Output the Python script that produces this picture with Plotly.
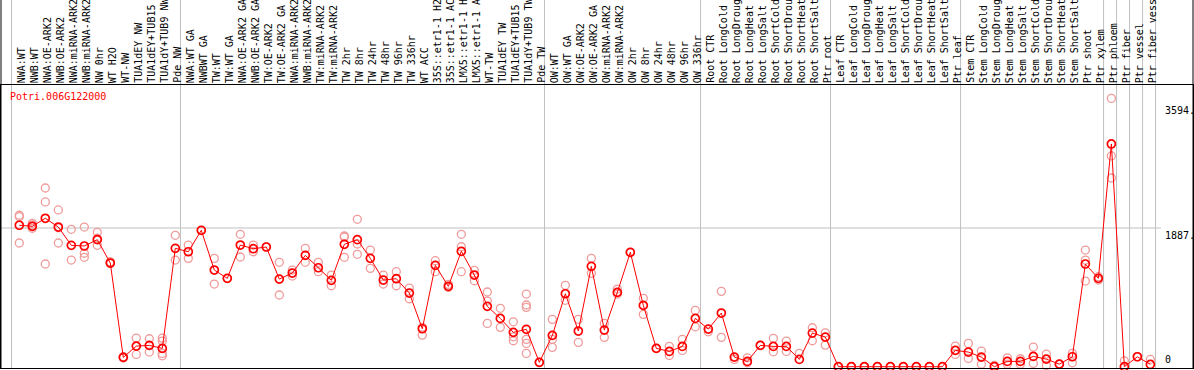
import plotly.graph_objects as go

gene = "Potri.006G122000"

labels = [
    "NWA:WT", "NWB:WT", "NWA:OE-ARK2", "NWB:OE-ARK2", "NWA:miRNA-ARK2", "NWB:miRNA-ARK2",
    "NW 0hr", "WT H2O", "WT-NW", "TUA1dEY NW", "TUA1dEY+TUB15 NW", "TUA1dY+TUB9 NW", "Pde NW",
    "NWA:WT GA", "NWBWT GA", "TW:WT", "TW:WT GA", "NWA:OE-ARK2 GA", "NWB:OE-ARK2 GA",
    "TW:OE-ARK2", "TW:OE-ARK2 GA", "NWA:miRNA-ARK2 GA", "NWB:miRNA-ARK2 GA", "TW:miRNA-ARK2",
    "TW:miRNA-ARK2 GA", "TW 2hr", "TW 8hr", "TW 24hr", "TW 48hr", "TW 96hr", "TW 336hr",
    "WT ACC", "35S::etr1-1 H2O", "35S::etr1-1 ACC", "LMX5::etr1-1 H2O", "LMX5::etr1-1 ACC",
    "WT-TW", "TUA1dEY TW", "TUA1dEY+TUB15 TW", "TUA1dY+TUB9 TW", "Pde TW",
    "OW:WT", "OW:WT GA", "OW:OE-ARK2", "OW:OE-ARK2 GA", "OW:miRNA-ARK2", "OW:miRNA-ARK2 GA",
    "OW 2hr", "OW 8hr", "OW 24hr", "OW 48hr", "OW 96hr", "OW 336hr",
    "Root CTR", "Root LongCold", "Root LongDrought", "Root LongHeat", "Root LongSalt",
    "Root ShortCold", "Root ShortDrought", "Root ShortHeat", "Root ShortSalt", "Ptr root",
    "Leaf CTR", "Leaf LongCold", "Leaf LongDrought", "Leaf LongHeat", "Leaf LongSalt",
    "Leaf ShortCold", "Leaf ShortDrought", "Leaf ShortHeat", "Leaf ShortSalt", "Ptr leaf",
    "Stem CTR", "Stem LongCold", "Stem LongDrought", "Stem LongHeat", "Stem LongSalt",
    "Stem ShortCold", "Stem ShortDrought", "Stem ShortHeat", "Stem ShortSalt", "Ptr shoot",
    "Ptr xylem", "Ptr phloem", "Ptr fiber", "Ptr vessel", "Ptr fiber vessel",
]

group_sizes = [13, 28, 12, 10, 10, 11, 1, 1, 1, 1]

mean_values = [
    1924, 1910, 2019, 1900, 1651, 1642, 1728, 1410, 127, 280, 290, 249, 1610,
    1564, 1855, 1315, 1202, 1655, 1605, 1628, 1192, 1274, 1515, 1346, 1175, 1665, 1728,
    1474, 1179, 1197, 1002, 516, 1379, 1093, 1570, 1247, 821, 657, 467, 508, 59,
    426, 992, 485, 1365, 498, 1011, 1556, 834, 249, 208, 276, 657,
    512, 730, 131, 72, 290, 276, 276, 99, 457, 403,
    0, 0, 0, 0, 0, 0, 0, 0, 0, 222,
    199, 131, 0, 72, 72, 140, 103, 35, 135, 1397, 1202,
    3030, 0, 135, 31,
]

replicates = [
    [2041, 2060, 1683], [1951, 1928, 1883], [2431, 2241, 1397], [2132, 1683, 1890],
    [1869, 1451], [1900, 1543, 1488], [1828, 1651, 1747], [1428, 1406], [135, 120],
    [389, 167], [380, 199], [389, 348, 181, 148], [1787, 1451],
    [1655, 1474], [1855], [1474, 1124], [1202], [1801, 1492], [1655, 1564], [1628],
    [1420, 975], [1315, 1233], [1610, 1420], [1420, 1292], [1247, 1101],
    [1778, 1764, 1488], [2005, 1669, 1529], [1587, 1338], [1247, 1124], [1292, 1101],
    [1070, 924], [535, 430], [1442, 1292], [1120, 1079], [1801, 1632, 1292], [1311, 1169],
    [1016, 893, 589], [794, 535], [611, 407, 353], [988, 839, 807, 372, 317, 181], [59],
    [644, 372, 263], [1107, 903], [644, 331], [1474, 1270], [589, 399], [1056, 988],
    [1556], [930, 712], [249], [276, 154], [372, 222], [766, 543],
    [475], [1025, 399], [99], [121, 53], [290], [385, 203], [348, 208], [181],
    [530, 353], [461, 294],
    [0], [0], [0], [0], [0], [0], [0], [0], [0], [280, 167],
    [317, 113], [212, 35], [18], [121, 35], [108, 35], [267, 45], [172, 18], [35],
    [181, 53], [1587, 1451, 1165], [1224, 1179],
    [3650, 2867, 2567], [80], [135], [99],
]

y_tick_values = [3594, 1887, 0]
y_tick_text = ["3594.", "1887.", "0"]
grid_value = 1887

MONO = "DejaVu Sans Mono"
RED = "#ff0000"
PINK = "#f09a9a"
GRID = "#c0c0c0"

n = len(labels)
xs = list(range(n))

rep_x, rep_y = [], []
for i, reps in enumerate(replicates):
    for v in reps:
        rep_x.append(i)
        rep_y.append(v)

fig = go.Figure()
fig.add_trace(go.Scatter(
    x=rep_x, y=rep_y, mode="markers", cliponaxis=False,
    marker=dict(symbol="circle-open", size=8, color=PINK, line=dict(width=1.3, color=PINK)),
    hoverinfo="skip", showlegend=False))
fig.add_trace(go.Scatter(
    x=xs, y=mean_values, mode="lines+markers", cliponaxis=False,
    line=dict(color=RED, width=1),
    marker=dict(symbol="circle-open", size=8, color=RED, line=dict(width=1.7, color=RED)),
    showlegend=False))

x_lo, x_hi = -1.408, 90.28
shapes = []
b = -1
bounds = [b]
for g in group_sizes:
    b += g
    bounds.append(b)
for k in bounds:
    shapes.append(dict(type="line", xref="x", yref="paper", x0=k + 0.4, x1=k + 0.4,
                       y0=0, y1=1.32, line=dict(color=GRID, width=1), layer="below"))
shapes.append(dict(type="line", xref="x", yref="y", x0=x_lo, x1=n - 0.18,
                   y0=grid_value, y1=grid_value, line=dict(color=GRID, width=1), layer="below"))
for xp in (0, 1):
    shapes.append(dict(type="line", xref="paper", yref="paper", x0=xp, x1=xp,
                       y0=0, y1=1.32, line=dict(color="black", width=1)))

annotations = [dict(text=gene, xref="paper", yref="paper", x=0.0062, y=0.958,
                    xanchor="left", yanchor="middle", showarrow=False,
                    font=dict(family=MONO, size=10, color=RED))]
for v, t in zip(y_tick_values, y_tick_text):
    annotations.append(dict(text=t, xref="x", yref="y", x=n - 0.02, y=v,
                            xanchor="left", yanchor="bottom" if v == 0 else "top",
                            showarrow=False, font=dict(family=MONO, size=10, color="black")))
for i, lab in enumerate(labels):
    annotations.append(dict(text=lab, xref="x", yref="paper", x=i, y=1, xshift=2,
                            xanchor="center", yanchor="bottom", textangle=-90,
                            showarrow=False, font=dict(family=MONO, size=10, color="black")))

fig.update_layout(
    width=1194, height=370,
    margin=dict(l=1, r=1, t=85, b=2, pad=0),
    paper_bgcolor="white", plot_bgcolor="white",
    shapes=shapes, annotations=annotations,
    xaxis=dict(range=[x_lo, x_hi], showticklabels=False, ticks="",
               showgrid=False, zeroline=False, showline=True, linecolor="black", linewidth=1,
               mirror=True, automargin=False),
    yaxis=dict(range=[-17.7, 3832], showticklabels=False, showgrid=False, zeroline=False,
               showline=True, linecolor="black", linewidth=1, mirror=True, automargin=False),
)

fig.write_html("out.html", config={"displayModeBar": False},
               post_script="document.body.style.margin='0';document.body.style.padding='0';")
